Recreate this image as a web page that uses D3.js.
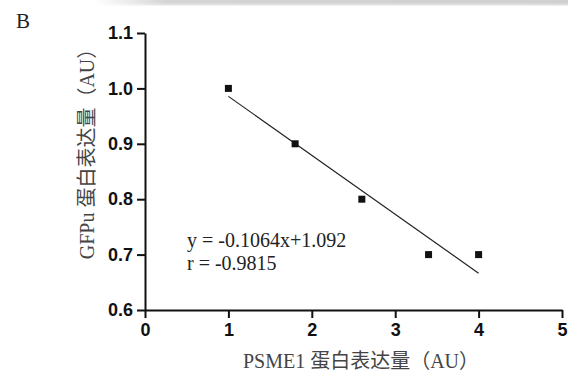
<!DOCTYPE html>
<html>
<head>
<meta charset="utf-8">
<script src="https://cdn.jsdelivr.net/npm/d3@7"></script>
<style>
  body { margin: 0; background: #fff; }
  svg { display: block; }
</style>
</head>
<body>
<div id="chart"></div>
<script>
// data
const psme1 = [1.0, 1.8, 2.6, 3.4, 4.0];
const gfpu = [1.0, 0.9, 0.8, 0.7, 0.7];
const fitSlope = -0.1064;
const fitIntercept = 1.092;
const fitText = ['y = -0.1064x+1.092', 'r = -0.9815'];
const xTicks = [0, 1, 2, 3, 4, 5];
const yTicks = [0.6, 0.7, 0.8, 0.9, 1.0, 1.1];

const width = 568, height = 376;
const margin = {top: 33, right: 6, bottom: 66, left: 145};

const svg = d3.select('#chart')
  .append('svg')
  .attr('width', width)
  .attr('height', height);

// scan shadow along the top edge
const defs = svg.append('defs');
const grad = defs.append('linearGradient')
  .attr('id', 'shade')
  .attr('x1', 0).attr('x2', 1).attr('y1', 0).attr('y2', 0);
grad.append('stop').attr('offset', '0%').attr('stop-color', '#fff');
grad.append('stop').attr('offset', '15%').attr('stop-color', '#d4d4d4');
grad.append('stop').attr('offset', '100%').attr('stop-color', '#cfcfcf');
defs.append('filter').attr('id', 'blur')
  .append('feGaussianBlur').attr('stdDeviation', 1.5);
svg.append('rect')
  .attr('x', 95).attr('y', -3)
  .attr('width', 480).attr('height', 8)
  .attr('fill', 'url(#shade)')
  .attr('filter', 'url(#blur)');

const x = d3.scaleLinear()
  .domain([0, 5])
  .range([margin.left, width - margin.right]);

const y = d3.scaleLinear()
  .domain([0.6, 1.1])
  .range([height - margin.bottom, margin.top]);

// panel letter
svg.append('text')
  .attr('x', 16)
  .attr('y', 28)
  .attr('font-family', '"Liberation Serif", "DejaVu Serif", serif')
  .attr('font-size', 21)
  .attr('fill', '#222')
  .text('B');

const xAxis = g => g
  .attr('transform', `translate(0,${y(0.6)})`)
  .call(d3.axisBottom(x).tickValues(xTicks).tickFormat(d3.format('d'))
    .tickSize(8).tickPadding(5).tickSizeOuter(0));

const yAxis = g => g
  .attr('transform', `translate(${x(0)},0)`)
  .call(d3.axisLeft(y).tickValues(yTicks).tickFormat(d3.format('.1f'))
    .tickSize(8).tickPadding(4).tickSizeOuter(0));

[xAxis, yAxis].forEach(axis => {
  svg.append('g')
    .call(axis)
    .call(g => g.selectAll('.domain, .tick line')
      .attr('stroke', '#111')
      .attr('stroke-width', 2))
    .call(g => g.selectAll('text')
      .attr('fill', '#111')
      .attr('font-family', '"Liberation Sans", Arial, sans-serif')
      .attr('font-weight', 'bold')
      .attr('font-size', 18));
});

// regression line over the data range
const xMin = d3.min(psme1), xMax = d3.max(psme1);
svg.append('line')
  .attr('x1', x(xMin))
  .attr('y1', y(fitSlope * xMin + fitIntercept))
  .attr('x2', x(xMax))
  .attr('y2', y(fitSlope * xMax + fitIntercept))
  .attr('stroke', '#222')
  .attr('stroke-width', 1.2);

// points
const pts = psme1.map((v, i) => ({x: v, y: gfpu[i]}));
svg.append('g')
  .selectAll('rect')
  .data(pts)
  .join('rect')
  .attr('x', d => x(d.x) - 3.5)
  .attr('y', d => y(d.y) - 3.5)
  .attr('width', 7)
  .attr('height', 7)
  .attr('fill', '#111');

// equation
svg.append('g')
  .attr('font-family', '"Liberation Serif", "DejaVu Serif", serif')
  .attr('font-size', 20)
  .attr('fill', '#222')
  .selectAll('text')
  .data(fitText)
  .join('text')
  .attr('x', 187)
  .attr('y', (d, i) => 247 + i * 23)
  .text(d => d);

const labelFont = '"Liberation Serif", "Noto Sans CJK SC", serif';

// axis titles
svg.append('text')
  .attr('x', 361)
  .attr('y', 368)
  .attr('text-anchor', 'middle')
  .attr('font-family', labelFont)
  .attr('font-size', 20)
  .attr('fill', '#444')
  .text('PSME1 蛋白表达量（AU）');

svg.append('text')
  .attr('transform', 'translate(94,149) rotate(-90)')
  .attr('text-anchor', 'middle')
  .attr('font-family', labelFont)
  .attr('font-size', 20)
  .attr('fill', '#444')
  .text('GFPu 蛋白表达量（AU）');
</script>
</body>
</html>
